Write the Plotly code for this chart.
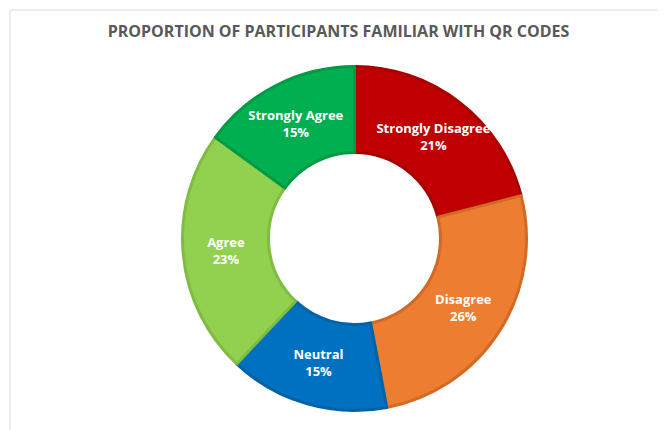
import plotly.graph_objects as go

labels = ["Strongly Disagree", "Disagree", "Neutral", "Agree", "Strongly Agree"]
values = [21, 26, 15, 23, 15]
colors = ["#C00000", "#ED7D31", "#0070C0", "#92D050", "#00B050"]
edge_colors = ["#A80000", "#D06A25", "#0062A8", "#80BC42", "#009A45"]
title_text = "PROPORTION OF PARTICIPANTS FAMILIAR WITH QR CODES"

W, H = 665, 430
OFF = 8  # page body margin
cx, cy, R = 354.5 - OFF, 238.5 - OFF, 172

fig = go.Figure(go.Pie(
    labels=labels,
    values=values,
    sort=False,
    direction="clockwise",
    rotation=0,
    hole=0.5,
    marker=dict(colors=colors, line=dict(color=edge_colors, width=3)),
    texttemplate="<b>%{label}</b><br><b>%{percent:.0%}</b>",
    textposition="inside",
    insidetextorientation="horizontal",
    textfont=dict(family="Open Sans", size=13, color="white"),
    showlegend=False,
    hoverinfo="label+percent",
    domain=dict(x=[(cx - R) / W, (cx + R) / W], y=[(H - cy - R) / H, (H - cy + R) / H]),
))

fig.update_layout(
    width=W, height=H,
    margin=dict(l=0, r=0, t=0, b=0),
    paper_bgcolor="white",
    uniformtext=dict(minsize=13, mode="show"),
    title=dict(text="<b>" + title_text + "</b>", x=(338.5 - OFF) / W, xanchor="center",
               y=1 - (31 - OFF) / H, yanchor="middle",
               font=dict(family="Open Sans", size=16, color="#595959")),
    shapes=[
        dict(type="line", xref="paper", yref="paper", x0=(10 - OFF) / W, x1=(10 - OFF) / W, y0=0, y1=1 - (10 - OFF) / H,
             line=dict(color="#D9D9D9", width=1)),
        dict(type="line", xref="paper", yref="paper", x0=(10 - OFF) / W, x1=1, y0=1 - (10 - OFF) / H, y1=1 - (10 - OFF) / H,
             line=dict(color="#D9D9D9", width=1)),
    ],
)

fig.write_html("out.html")
